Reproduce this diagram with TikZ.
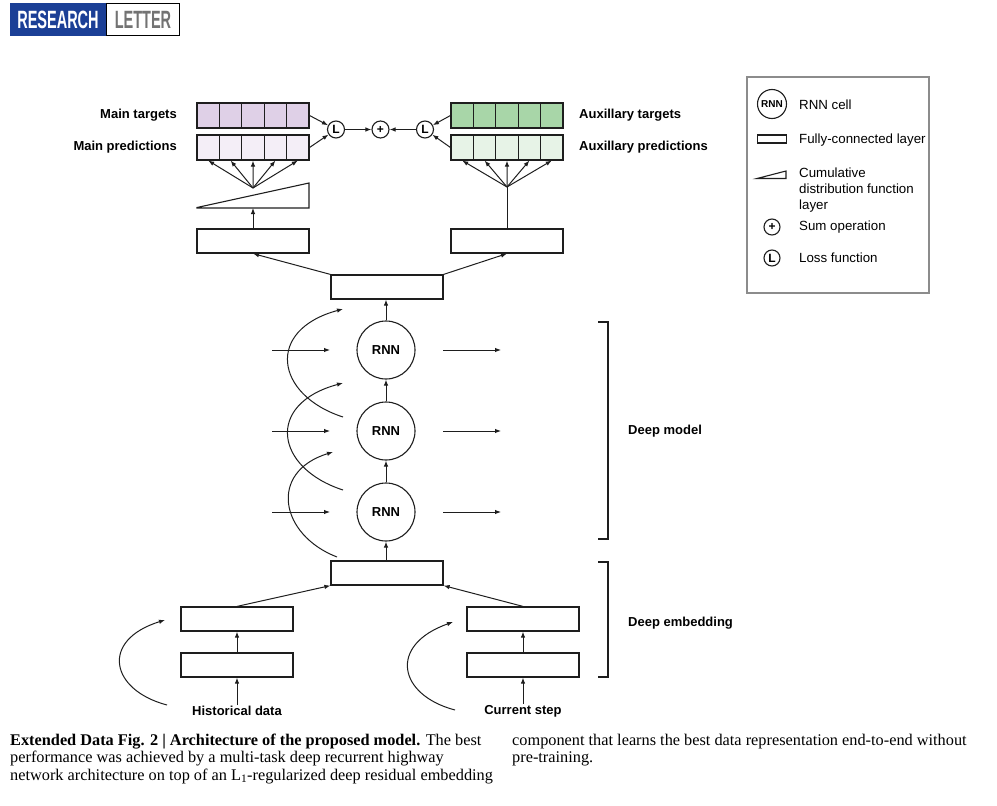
\documentclass[tikz,border=0pt]{standalone}
\usepackage{fontspec}
\setmainfont{Liberation Serif}
\setsansfont{Liberation Sans}
\newfontfamily\headfont[FakeStretch=0.58]{Liberation Sans}
\newfontfamily\capfont{Liberation Serif}
\usetikzlibrary{arrows.meta}
\definecolor{natblue}{HTML}{1B3F96}
\definecolor{mtfill}{HTML}{DFD0E7}
\definecolor{mpfill}{HTML}{F4EEF7}
\definecolor{atfill}{HTML}{A8D6A8}
\definecolor{apfill}{HTML}{E7F3E7}
\definecolor{linec}{HTML}{1E1E1E}
\begin{document}
\begin{tikzpicture}[x=1pt,y=-1pt,
  fc/.style={draw=linec, line width=1.2pt, minimum width=112pt, minimum height=24pt, inner sep=0pt},
  cell/.style={draw=linec, line width=1.1pt, minimum width=22.4pt, minimum height=25pt, inner sep=0pt},
  rnn/.style={circle, draw=linec, line width=1.1pt, minimum size=58pt, inner sep=0pt, font=\sffamily\bfseries\fontsize{13}{15}\selectfont},
  op/.style={circle, draw=linec, line width=1.1pt, minimum size=17pt, inner sep=0pt, font=\sffamily\bfseries\fontsize{12}{13}\selectfont},
  lbl/.style={font=\sffamily\bfseries\fontsize{13}{15}\selectfont, inner sep=1pt},
  leg/.style={font=\sffamily\fontsize{13.3}{16}\selectfont, anchor=west, inner sep=0pt, align=left},
  arr/.style={-{Latex[length=6pt,width=4.5pt]}, line width=1pt, draw=linec},
  ln/.style={line width=1pt, draw=linec},
  capt/.style={font=\capfont\fontsize{16.3}{18}\selectfont, anchor=base west, inner sep=0pt}
]
\useasboundingbox (0,0) rectangle (997,806);

% header
\fill[natblue] (10,3) rectangle (106,36);
\draw[line width=1pt] (106,3.5) rectangle (179.5,35.5);
\node[text=white, font=\headfont\bfseries\fontsize{25}{25}\selectfont, inner sep=0pt] (hdr1) at (58,20) {RESEARCH};
\node[text=black!55, font=\headfont\bfseries\fontsize{25}{25}\selectfont, inner sep=0pt] (hdr2) at (143,20) {LETTER};

% target / prediction cells
\foreach \i in {1,...,5} {
  \node[cell, fill=mtfill] (mt\i) at ({197+22.4*(\i-0.5)},115.5) {};
  \node[cell, fill=mpfill] (mp\i) at ({197+22.4*(\i-0.5)},147.5) {};
  \node[cell, fill=atfill] (at\i) at ({451+22.4*(\i-0.5)},115.5) {};
  \node[cell, fill=apfill] (ap\i) at ({451+22.4*(\i-0.5)},147.5) {};
}
\node[lbl, anchor=east] (lmt) at (178,115) {Main targets};
\node[lbl, anchor=east] (lmp) at (178,147) {Main predictions};
\node[lbl, anchor=west] (lat) at (578,115) {Auxillary targets};
\node[lbl, anchor=west] (lap) at (578,147) {Auxillary predictions};

% loss and sum
\node[op] (L1) at (336,129.5) {L};
\node[op] (plus) at (380.5,129.5) {+};
\node[op] (L2) at (425,129.5) {L};
\draw[arr] (mt5.east) -- (L1);
\draw[arr] (mp5.east) -- (L1);
\draw[arr] (L1) -- (plus);
\draw[arr] (L2) -- (plus);
\draw[arr] (at1.west) -- (L2);
\draw[arr] (ap1.west) -- (L2);

% main branch
\coordinate (mfan) at (253,188);
\foreach \i in {1,...,5} \draw[arr] (mfan) -- (mp\i.south);
\draw[draw=linec, line width=1.1pt] (197,207.5) -- (309,183) -- (309,208) -- (197,208) -- cycle;
\coordinate (cdf) at (253,208);
\node[fc] (mainfc) at (253,241) {};
\draw[arr] (mainfc.north) -- (cdf);

% aux branch
\coordinate (afan) at (507,187);
\foreach \i in {1,...,5} \draw[arr] (afan) -- (ap\i.south);
\node[fc] (auxfc) at (507,241) {};
\draw[ln] (auxfc.north) -- (afan);

% top fc
\node[fc] (topfc) at (387,287) {};
\draw[arr] (topfc.north west) -- (mainfc.south);
\draw[arr] (topfc.north east) -- (auxfc.south);

% RNN stack
\node[rnn] (r1) at (386,350) {RNN};
\node[rnn] (r2) at (386,431) {RNN};
\node[rnn] (r3) at (386,512) {RNN};
\node[fc] (embfc) at (387,573) {};
\draw[arr] (r1) -- (r1.north |- topfc.south);
\draw[arr] (r2) -- (r1);
\draw[arr] (r3) -- (r2);
\draw[arr] (r3.south |- embfc.north) -- (r3);

\foreach \y [count=\k] in {350,431,512} {
  \coordinate (in\k a) at (272,\y);
  \coordinate (in\k b) at (330,\y);
  \coordinate (out\k a) at (443,\y);
  \coordinate (out\k b) at (501,\y);
  \draw[arr] (in\k a) -- (in\k b);
  \draw[arr] (out\k a) -- (out\k b);
}

% skip connections
\coordinate (s1a) at (343,417); \coordinate (s1b) at (343,309);
\coordinate (s2a) at (343,490); \coordinate (s2b) at (343,383);
\coordinate (s3a) at (337,557); \coordinate (s3b) at (333,452);
\draw[arr] (s1a) .. controls (275,395) and (265,330) .. (s1b);
\draw[arr] (s2a) .. controls (275,468) and (265,404) .. (s2b);
\draw[arr] (s3a) .. controls (280,535) and (268,472) .. (s3b);

% embedding
\node[fc] (hu) at (237,619) {};
\node[fc] (hl) at (237,665) {};
\node[fc] (cu) at (523,619) {};
\node[fc] (cl) at (523,665) {};
\node[lbl] (hist) at (237,711) {Historical data};
\node[lbl] (cur) at (523,711) {Current step};
\draw[arr] (hu.north) -- (embfc.south west);
\draw[arr] (cu.north) -- (embfc.south east);
\draw[arr] (hl) -- (hu);
\draw[arr] (cl) -- (cu);
\draw[arr] (hist.north) -- (hl);
\draw[arr] (cur.north) -- (cl);
\coordinate (e1a) at (167,705); \coordinate (e1b) at (165,620);
\coordinate (e2a) at (455,710); \coordinate (e2b) at (453,622);
\draw[arr] (e1a) .. controls (110,690) and (100,640) .. (e1b);
\draw[arr] (e2a) .. controls (398,695) and (388,645) .. (e2b);

% brackets
\draw[line width=1.1pt, draw=linec] (598,322) -- (608,322) -- (608,539) -- (598,539);
\draw[line width=1.1pt, draw=linec] (598,562) -- (608,562) -- (608,677) -- (598,677);
\node[lbl, anchor=west] (dm) at (627,431) {Deep model};
\node[lbl, anchor=west] (de) at (627,623) {Deep embedding};

% legend
\draw[draw=black!45, line width=1.2pt] (747,77) rectangle (929,293);
\node[circle, draw=linec, line width=1.1pt, minimum size=29pt, inner sep=0pt, font=\sffamily\bfseries\fontsize{10}{11}\selectfont] (lrnn) at (772,104) {RNN};
\node[leg] (tr) at (799,105) {RNN cell};
\node[draw=linec, line width=1.1pt, minimum width=29pt, minimum height=8pt, inner sep=0pt] (lfc) at (772,139) {};
\node[leg] (tf) at (799,140) {Fully-connected layer};
\draw[draw=linec, line width=1.1pt] (757,178.5) -- (786,171) -- (786,178.5) -- cycle;
\node[leg] (tc) at (799,190) {Cumulative\\distribution function\\layer};
\node[op, minimum size=16pt] (lplus) at (772,227) {+};
\node[leg] (ts) at (799,227) {Sum operation};
\node[op, minimum size=16pt] (lL) at (772,258) {L};
\node[leg] (tl) at (799,258) {Loss function};

% caption
\node[capt] (c1) at (10,745) {\textbf{Extended Data Fig. 2 | Architecture of the proposed model.} The best};
\node[capt] (c2) at (10,762.5) {performance was achieved by a multi-task deep recurrent highway};
\node[capt] (c3) at (10,780) {network architecture on top of an L\textsubscript{1}-regularized deep residual embedding};
\node[capt] (c4) at (512,745) {component that learns the best data representation end-to-end without};
\node[capt] (c5) at (512,762.5) {pre-training.};
\end{tikzpicture}
\end{document}
